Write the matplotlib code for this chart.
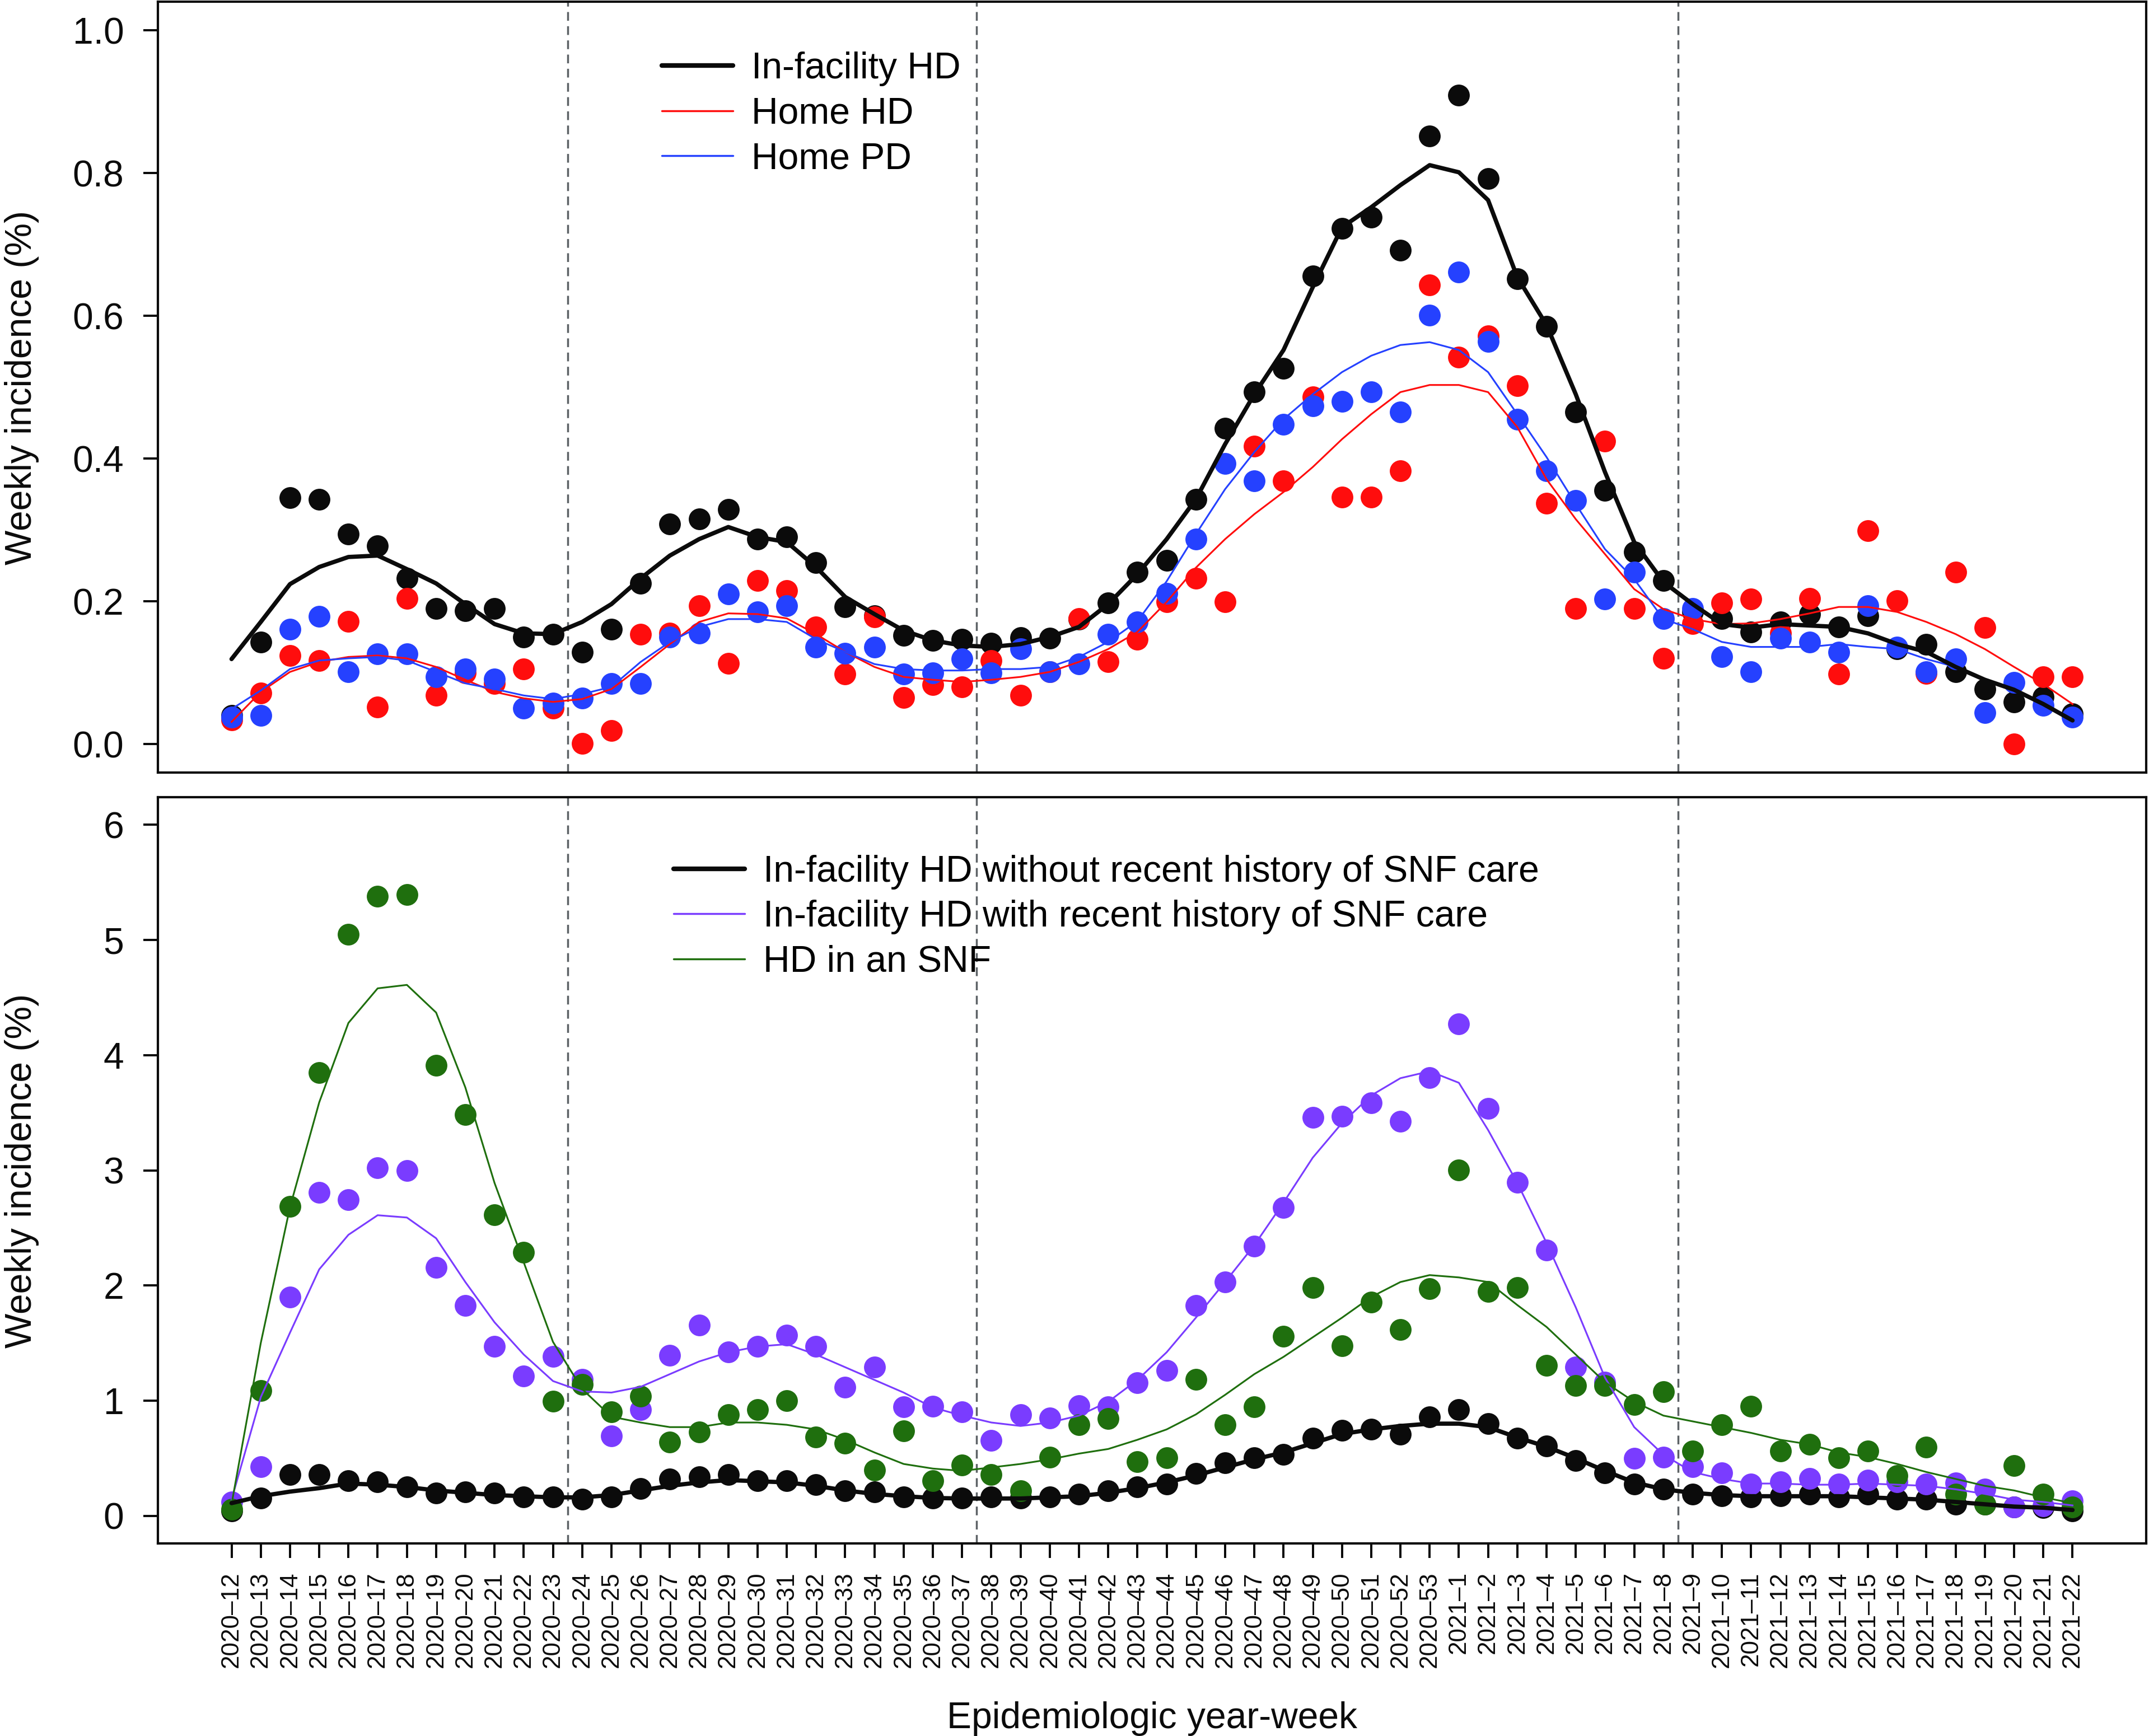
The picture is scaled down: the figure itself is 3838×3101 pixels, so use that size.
import matplotlib
matplotlib.use("Agg")
import matplotlib.pyplot as plt
from matplotlib.lines import Line2D
import numpy as np

plt.rcParams['font.family'] = ['Liberation Sans', 'DejaVu Sans']

# ---------------- data ----------------
weeks = [f"2020\u2013{w}" for w in range(12, 54)] + [f"2021\u2013{w}" for w in range(1, 23)]

# top panel: observed weekly incidence (%)
infac_hd_pts = [0.040, 0.143, 0.345, 0.343, 0.294, 0.278, 0.232, 0.190, 0.187, 0.190, 0.150, 0.154,
                0.129, 0.161, 0.225, 0.308, 0.315, 0.329, 0.287, 0.290, 0.254, 0.192, 0.180, 0.152,
                0.145, 0.147, 0.141, 0.149, 0.148, 0.175, 0.198, 0.241, 0.257, 0.343, 0.442, 0.493,
                0.526, 0.656, 0.722, 0.738, 0.692, 0.852,
                0.909, 0.792, 0.652, 0.585, 0.465, 0.355, 0.269, 0.229, 0.185, 0.176, 0.157, 0.171,
                0.182, 0.164, 0.180, 0.133, 0.140, 0.101, 0.077, 0.059, 0.066, 0.042]
home_hd_pts = [0.034, 0.071, 0.124, 0.117, 0.172, 0.052, 0.204, 0.068, 0.100, 0.085, 0.105, 0.050,
               0.001, 0.019, 0.154, 0.155, 0.194, 0.113, 0.229, 0.215, 0.164, 0.098, 0.178, 0.065,
               0.083, 0.080, 0.117, 0.068, 0.101, 0.176, 0.115, 0.147, 0.199, 0.232, 0.199, 0.417,
               0.369, 0.486, 0.346, 0.346, 0.383, 0.643,
               0.542, 0.572, 0.502, 0.337, 0.190, 0.424, 0.190, 0.120, 0.169, 0.198, 0.203, 0.155,
               0.204, 0.098, 0.299, 0.201, 0.099, 0.241, 0.163, 0.000, 0.094, 0.094]
home_pd_pts = [0.038, 0.040, 0.161, 0.179, 0.101, 0.126, 0.126, 0.094, 0.105, 0.091, 0.050, 0.057,
               0.064, 0.085, 0.085, 0.150, 0.155, 0.210, 0.185, 0.194, 0.136, 0.127, 0.136, 0.098,
               0.100, 0.119, 0.100, 0.133, 0.101, 0.112, 0.154, 0.171, 0.211, 0.287, 0.393, 0.369,
               0.448, 0.474, 0.480, 0.493, 0.465, 0.601,
               0.661, 0.564, 0.455, 0.383, 0.341, 0.203, 0.241, 0.176, 0.190, 0.122, 0.101, 0.148,
               0.143, 0.129, 0.194, 0.136, 0.101, 0.119, 0.044, 0.086, 0.054, 0.038]

# top panel: smoothed curves
infac_hd_fit = [0.119, 0.171, 0.224, 0.248, 0.262, 0.264, 0.245, 0.225, 0.196, 0.168, 0.155, 0.154,
                0.171, 0.196, 0.232, 0.264, 0.287, 0.304, 0.290, 0.283, 0.248, 0.206, 0.182, 0.159,
                0.145, 0.138, 0.136, 0.140, 0.150, 0.164, 0.196, 0.238, 0.287, 0.343, 0.420, 0.490,
                0.552, 0.640, 0.724, 0.752, 0.783, 0.811,
                0.801, 0.762, 0.654, 0.587, 0.490, 0.381, 0.283, 0.227, 0.196, 0.168, 0.163, 0.168,
                0.166, 0.164, 0.155, 0.140, 0.129, 0.108, 0.090, 0.076, 0.056, 0.033]
home_hd_fit = [0.031, 0.073, 0.101, 0.115, 0.122, 0.124, 0.120, 0.108, 0.090, 0.073, 0.064, 0.059,
               0.063, 0.077, 0.108, 0.140, 0.171, 0.183, 0.182, 0.176, 0.154, 0.129, 0.108, 0.094,
               0.090, 0.087, 0.090, 0.094, 0.101, 0.115, 0.133, 0.157, 0.199, 0.247, 0.287, 0.322,
               0.353, 0.388, 0.427, 0.462, 0.493, 0.503,
               0.503, 0.493, 0.444, 0.371, 0.315, 0.266, 0.217, 0.189, 0.175, 0.168, 0.169, 0.175,
               0.183, 0.192, 0.192, 0.185, 0.171, 0.154, 0.133, 0.108, 0.084, 0.056]
home_pd_fit = [0.049, 0.075, 0.105, 0.117, 0.120, 0.122, 0.117, 0.101, 0.085, 0.077, 0.068, 0.063,
               0.070, 0.080, 0.115, 0.143, 0.164, 0.175, 0.175, 0.171, 0.147, 0.129, 0.112, 0.105,
               0.103, 0.103, 0.105, 0.105, 0.108, 0.122, 0.143, 0.172, 0.228, 0.294, 0.357, 0.409,
               0.455, 0.490, 0.521, 0.544, 0.559, 0.563,
               0.552, 0.521, 0.462, 0.402, 0.336, 0.273, 0.231, 0.175, 0.161, 0.143, 0.136, 0.136,
               0.136, 0.140, 0.136, 0.133, 0.119, 0.108, 0.091, 0.077, 0.056, 0.035]

# bottom panel: observed weekly incidence (%)
no_snf_pts = [0.043, 0.156, 0.360, 0.360, 0.303, 0.295, 0.251, 0.199, 0.208, 0.199, 0.165, 0.165,
              0.143, 0.165, 0.238, 0.320, 0.338, 0.360, 0.303, 0.303, 0.269, 0.217, 0.208, 0.165,
              0.156, 0.156, 0.165, 0.156, 0.165, 0.186, 0.217, 0.251, 0.273, 0.368, 0.459, 0.503,
              0.533, 0.676, 0.741, 0.750, 0.706, 0.858,
              0.923, 0.802, 0.672, 0.607, 0.481, 0.373, 0.273, 0.230, 0.186, 0.173, 0.165, 0.173,
              0.186, 0.165, 0.186, 0.143, 0.143, 0.100, 0.100, 0.078, 0.069, 0.043]
snf_hist_pts = [0.120, 0.425, 1.898, 2.808, 2.743, 3.024, 2.998, 2.158, 1.828, 1.473, 1.213, 1.386,
                1.183, 0.693, 0.923, 1.391, 1.655, 1.421, 1.473, 1.568, 1.473, 1.118, 1.291, 0.945,
                0.953, 0.901, 0.654, 0.880, 0.849, 0.958, 0.945, 1.153, 1.261, 1.824, 2.028, 2.340,
                2.678, 3.458, 3.471, 3.588, 3.427, 3.804,
                4.272, 3.536, 2.894, 2.309, 1.291, 1.161, 0.498, 0.511, 0.425, 0.373, 0.273, 0.295,
                0.325, 0.273, 0.308, 0.295, 0.273, 0.286, 0.230, 0.078, 0.087, 0.130]
in_snf_pts = [0.056, 1.087, 2.686, 3.847, 5.048, 5.381, 5.394, 3.912, 3.483, 2.613, 2.288, 0.997,
              1.140, 0.901, 1.040, 0.641, 0.728, 0.880, 0.923, 1.001, 0.685, 0.628, 0.399, 0.737,
              0.303, 0.442, 0.360, 0.217, 0.511, 0.789, 0.845, 0.468, 0.503, 1.183, 0.789, 0.945,
              1.560, 1.984, 1.477, 1.854, 1.616, 1.971,
              3.003, 1.950, 1.984, 1.304, 1.131, 1.131, 0.966, 1.075, 0.563, 0.793, 0.953, 0.563,
              0.620, 0.503, 0.563, 0.347, 0.598, 0.186, 0.100, 0.438, 0.186, 0.078]

# bottom panel: smoothed curves
no_snf_fit = [0.11, 0.17, 0.21, 0.24, 0.28, 0.27, 0.25, 0.22, 0.20, 0.18, 0.17, 0.16,
              0.16, 0.18, 0.22, 0.26, 0.29, 0.31, 0.30, 0.29, 0.26, 0.22, 0.19, 0.17,
              0.155, 0.15, 0.15, 0.15, 0.16, 0.17, 0.20, 0.24, 0.29, 0.35, 0.42, 0.49,
              0.55, 0.63, 0.71, 0.75, 0.78, 0.80,
              0.80, 0.77, 0.68, 0.60, 0.50, 0.39, 0.29, 0.23, 0.20, 0.18, 0.17, 0.17,
              0.17, 0.17, 0.16, 0.15, 0.14, 0.12, 0.10, 0.08, 0.07, 0.05]
snf_hist_fit = [0.14, 1.03, 1.59, 2.14, 2.44, 2.61, 2.59, 2.41, 2.03, 1.68, 1.40, 1.17,
                1.08, 1.07, 1.12, 1.23, 1.34, 1.42, 1.47, 1.49, 1.40, 1.29, 1.18, 1.07,
                0.94, 0.87, 0.81, 0.78, 0.81, 0.87, 0.99, 1.18, 1.42, 1.72, 2.03, 2.35,
                2.72, 3.11, 3.41, 3.65, 3.80, 3.86,
                3.76, 3.35, 2.89, 2.37, 1.81, 1.20, 0.77, 0.53, 0.38, 0.32, 0.28, 0.28,
                0.27, 0.27, 0.28, 0.27, 0.26, 0.23, 0.19, 0.14, 0.12, 0.09]
in_snf_fit = [0.10, 1.50, 2.68, 3.59, 4.28, 4.58, 4.61, 4.37, 3.72, 2.89, 2.20, 1.51,
              1.10, 0.86, 0.81, 0.77, 0.77, 0.81, 0.81, 0.79, 0.75, 0.66, 0.55, 0.45,
              0.41, 0.39, 0.42, 0.45, 0.49, 0.54, 0.58, 0.66, 0.75, 0.88, 1.05, 1.23,
              1.38, 1.55, 1.72, 1.90, 2.03, 2.09,
              2.07, 2.03, 1.83, 1.64, 1.40, 1.16, 0.99, 0.87, 0.82, 0.77, 0.72, 0.66,
              0.62, 0.55, 0.51, 0.45, 0.38, 0.32, 0.26, 0.22, 0.16, 0.11]

period_breaks = ["2020\u201323", "2020\u201337", "2021\u20138"]  # dashed line after these weeks

top_labels = ["In-facility HD", "Home HD", "Home PD"]
bottom_labels = ["In-facility HD without recent history of SNF care",
                 "In-facility HD with recent history of SNF care",
                 "HD in an SNF"]

# ---------------- style ----------------
BLACK = '#0b0b0b'
RED = '#ff0d0d'
BLUE = '#2541ff'
PURPLE = '#7a3cff'
GREEN = '#1f6f0e'
DASH = '#5d6266'

FS = 19
MS = 11.2
THICK = 2.2
THIN = 0.9

x = np.arange(len(weeks))

fig = plt.figure(figsize=(3838 / 250, 3101 / 250), dpi=250)
ax1 = fig.add_axes([0.07348, 0.55498, 0.92520, 0.44405])
ax2 = fig.add_axes([0.07348, 0.11093, 0.92520, 0.42986])

for ax in (ax1, ax2):
    ax.set_xlim(-2.52, len(weeks) - 1 + 2.52)
    for s in ax.spines.values():
        s.set_linewidth(1.2)
        s.set_color(BLACK)
    for b in period_breaks:
        xb = weeks.index(b) + 0.5
        ax.axvline(xb, color=DASH, lw=1.0, dashes=(4.5, 2.8), zorder=1)
    ax.tick_params(axis='y', length=7.5, width=1.15, pad=10, labelsize=FS, colors=BLACK)

# top panel
ax1.set_ylim(-0.04, 1.04)
ax1.set_yticks([0.0, 0.2, 0.4, 0.6, 0.8, 1.0])
ax1.set_yticklabels(["0.0", "0.2", "0.4", "0.6", "0.8", "1.0"])
ax1.set_xticks([])
for pts, col in ((infac_hd_pts, BLACK), (home_hd_pts, RED), (home_pd_pts, BLUE)):
    ax1.plot(x, pts, 'o', color=col, ms=MS, mew=0, zorder=3)
ax1.plot(x, home_hd_fit, color=RED, lw=THIN, zorder=5)
ax1.plot(x, home_pd_fit, color=BLUE, lw=THIN, zorder=5)
ax1.plot(x, infac_hd_fit, color=BLACK, lw=THICK, zorder=6, solid_capstyle='round')

h1 = [Line2D([], [], color=BLACK, lw=2.4, solid_capstyle='round'),
      Line2D([], [], color=RED, lw=1.0, solid_capstyle='round'),
      Line2D([], [], color=BLUE, lw=1.0, solid_capstyle='round')]
ax1.legend(h1, top_labels, loc='upper left', bbox_to_anchor=(14.73, 0.970),
           bbox_transform=ax1.transData, frameon=False, fontsize=FS,
           handlelength=1.92, handletextpad=0.5, labelspacing=0.28,
           borderpad=0, borderaxespad=0)

# bottom panel
ax2.set_ylim(-0.24, 6.24)
ax2.set_yticks([0, 1, 2, 3, 4, 5, 6])
ax2.set_xticks(x)
ax2.set_xticklabels(weeks, rotation=90, fontsize=12.7)
ax2.tick_params(axis='x', length=7.5, width=1.15, pad=7, colors=BLACK)
for pts, col in ((no_snf_pts, BLACK), (snf_hist_pts, PURPLE), (in_snf_pts, GREEN)):
    ax2.plot(x, pts, 'o', color=col, ms=MS, mew=0, zorder=3)
ax2.plot(x, snf_hist_fit, color=PURPLE, lw=THIN, zorder=5)
ax2.plot(x, in_snf_fit, color=GREEN, lw=THIN, zorder=5)
ax2.plot(x, no_snf_fit, color=BLACK, lw=THICK, zorder=6, solid_capstyle='round')

h2 = [Line2D([], [], color=BLACK, lw=2.4, solid_capstyle='round'),
      Line2D([], [], color=PURPLE, lw=1.0, solid_capstyle='round'),
      Line2D([], [], color=GREEN, lw=1.0, solid_capstyle='round')]
ax2.legend(h2, bottom_labels, loc='upper left', bbox_to_anchor=(15.13, 5.74),
           bbox_transform=ax2.transData, frameon=False, fontsize=FS,
           handlelength=1.92, handletextpad=0.5, labelspacing=0.28,
           borderpad=0, borderaxespad=0)

# axis titles
fig.text(0.0102, 0.7768, "Weekly incidence (%)", rotation=90, ha='center', va='center',
         fontsize=FS, color=BLACK)
fig.text(0.0102, 0.3257, "Weekly incidence (%)", rotation=90, ha='center', va='center',
         fontsize=FS, color=BLACK)
fig.text(0.536, 0.0045, "Epidemiologic year-week", ha='center', va='baseline',
         fontsize=FS, color=BLACK)

fig.savefig("out.png", dpi=250, facecolor='white')
